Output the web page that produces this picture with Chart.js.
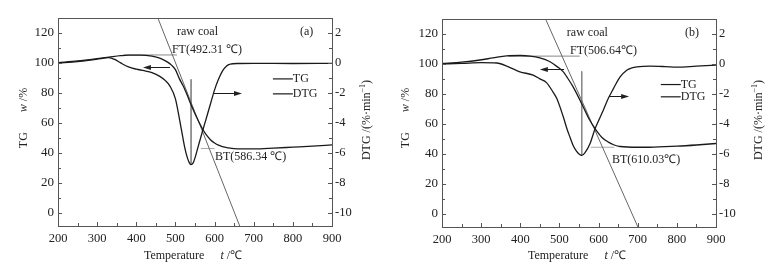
<!DOCTYPE html>
<html>
<head>
<meta charset="utf-8">
<script src="https://cdn.jsdelivr.net/npm/chart.js@4.4.0/dist/chart.umd.min.js"></script>
<style>
html, body { margin: 0; padding: 0; background: #fff; }
#wrap { position: relative; width: 777px; height: 268px; }
.box { position: absolute; top: 0; height: 268px; }
</style>
</head>
<body>
<div id="wrap">
  <div class="box" style="left:0;width:388px"><canvas id="chartA" width="388" height="268"></canvas></div>
  <div class="box" style="left:388px;width:389px"><canvas id="chartB" width="389" height="268"></canvas></div>
</div>
<script>
// ---- data ----
const tempTicks = [200, 300, 400, 500, 600, 700, 800, 900];
const tgTicks = [0, 20, 40, 60, 80, 100, 120];
const dtgTicks = [-10, -8, -6, -4, -2, 0, 2];

// (a) raw coal
const tgTempA = [200, 250, 300, 330, 360, 380, 410, 440, 460, 480, 490, 500, 510, 520, 530, 540, 550, 560, 570, 580, 590, 600, 610, 620, 635, 650, 700, 750, 800, 850, 900];
const tgA     = [100.2, 101.3, 102.8, 103.8, 104.8, 105.2, 105.2, 104.5, 103.2, 100.5, 98.5, 95.5, 89.5, 84.5, 78.5, 72, 66, 60.5, 55.5, 51.5, 48.5, 46.5, 45, 44, 43.2, 42.7, 42.5, 43, 43.7, 44.4, 45.2];
const dtgTempA = [200, 250, 300, 330, 345, 360, 380, 400, 420, 440, 460, 475, 486, 500, 510, 519, 525, 530, 535, 540, 545, 550, 558, 565, 571, 580, 590, 600, 610, 620, 630, 640, 660, 700, 800, 900];
const dtgA     = [0, 0.08, 0.25, 0.35, 0.23, 0, -0.27, -0.42, -0.52, -0.65, -0.9, -1.2, -1.55, -2.4, -3.7, -5.0, -5.8, -6.3, -6.65, -6.8, -6.7, -6.35, -5.6, -4.95, -4.4, -3.6, -2.7, -1.8, -1.1, -0.55, -0.22, -0.08, -0.04, -0.03, -0.04, -0.03];
const ftA = [492.31, 105.3];      // [temperature, TG level]
const btA = [586.34, 42.8];
const peakA = [540, 89, 32];      // [temperature, TG top, TG bottom]
const ftSpanA = [367, 504];
const btSpanA = [565, 600];

// (b)
const tgTempB = [200, 250, 297, 330, 365, 400, 425, 450, 476, 495, 510, 519, 535, 561, 575, 591, 608, 625, 640, 655, 700, 731, 800, 850, 900];
const tgB     = [100.3, 101.2, 102.6, 104, 105.4, 105.6, 105.2, 104, 101.4, 98, 94.7, 91.3, 84.6, 71.2, 63.5, 56.7, 51, 47.7, 45.8, 44.8, 44.3, 44.3, 45, 45.8, 46.8];
const dtgTempB = [200, 250, 300, 340, 370, 399, 433, 450, 467, 484, 493, 510, 520, 527, 535, 544, 550, 557, 565, 578, 591, 600, 612, 625, 638, 655, 672, 685, 698, 731, 770, 800, 850, 900];
const dtgB     = [0, 0.03, 0.08, 0.06, -0.2, -0.53, -0.75, -1.0, -1.25, -1.9, -2.3, -3.55, -4.4, -4.9, -5.45, -5.85, -6.02, -6.12, -5.95, -5.34, -4.33, -3.8, -3.1, -2.3, -1.65, -0.87, -0.42, -0.27, -0.2, -0.15, -0.18, -0.22, -0.15, -0.08];
const ftB = [506.64, 105.2];
const btB = [610.03, 44.3];
const peakB = [557, 95, 38.8];
const ftSpanB = [370, 552];
const btSpanB = [580, 640];

const serif = "'Liberation Serif', 'Times New Roman', serif";
Chart.defaults.font.family = serif;
Chart.defaults.font.size = 12;
Chart.defaults.color = '#222';

function pts(xs, ys) { return xs.map((t, i) => ({ x: t, y: ys[i] })); }

function tangent(ft, bt) {
  const k = (bt[1] - ft[1]) / (bt[0] - ft[0]);
  const tAt = v => ft[0] + (v - ft[1]) / k;
  return [{ x: tAt(140), y: 140 }, { x: tAt(-20), y: -20 }];
}

function minus(v) { return v < 0 ? '-' + Math.abs(v) : String(v); }

function drawParts(ctx, parts, x, y, rot) {
  ctx.save();
  ctx.translate(x, y);
  if (rot) ctx.rotate(-Math.PI / 2);
  let w = 0;
  parts.forEach(p => { ctx.font = p.f; w += ctx.measureText(p.t).width + (p.gap || 0); });
  let cx = -w / 2;
  ctx.textBaseline = 'middle';
  ctx.textAlign = 'left';
  parts.forEach(p => {
    ctx.font = p.f;
    ctx.fillText(p.t, cx, p.dy || 0);
    cx += ctx.measureText(p.t).width + (p.gap || 0);
  });
  ctx.restore();
}

const decor = {
  id: 'decor',
  afterDraw(chart, args, o) {
    const { ctx, chartArea: a, scales } = chart;
    const sx = scales.x, sy = scales.tg, sd = scales.dtg;
    const X = v => sx.getPixelForValue(v), Y = v => sy.getPixelForValue(v);
    ctx.save();
    // frame
    ctx.strokeStyle = '#555';
    ctx.lineWidth = 1;
    ctx.strokeRect(Math.round(a.left) + 0.5, Math.round(a.top) + 0.5, Math.round(a.right - a.left), Math.round(a.bottom - a.top));
    // inward ticks, major + minor
    ctx.beginPath();
    for (let i = 0; i < tempTicks.length; i++) {
      const v = tempTicks[i];
      let p = Math.round(X(v)) + 0.5;
      ctx.moveTo(p, a.bottom); ctx.lineTo(p, a.bottom - 4);
      if (i < tempTicks.length - 1) {
        p = Math.round(X((v + tempTicks[i + 1]) / 2)) + 0.5;
        ctx.moveTo(p, a.bottom); ctx.lineTo(p, a.bottom - 3);
      }
    }
    for (let i = 0; i < tgTicks.length; i++) {
      const v = tgTicks[i];
      let p = Math.round(Y(v)) + 0.5;
      ctx.moveTo(a.left, p); ctx.lineTo(a.left + 4, p);
      p = Math.round(Y(v + 10)) + 0.5;
      ctx.moveTo(a.left, p); ctx.lineTo(a.left + 3, p);
    }
    for (let i = 0; i < dtgTicks.length; i++) {
      const v = dtgTicks[i];
      let p = Math.round(sd.getPixelForValue(v)) + 0.5;
      ctx.moveTo(a.right, p); ctx.lineTo(a.right - 4, p);
      p = Math.round(sd.getPixelForValue(v + 1)) + 0.5;
      ctx.moveTo(a.right, p); ctx.lineTo(a.right - 3, p);
    }
    ctx.stroke();

    // notes
    ctx.fillStyle = '#222';
    ctx.font = '12px ' + serif;
    ctx.textBaseline = 'middle';
    ctx.textAlign = 'left';
    o.notes.forEach(n => ctx.fillText(n.text, X(n.t), Y(n.tg)));

    // legend
    ctx.strokeStyle = '#1a1a1a';
    ctx.lineWidth = 1.2;
    o.legend.forEach(l => {
      ctx.beginPath();
      ctx.moveTo(X(l.t0), Y(l.tg)); ctx.lineTo(X(l.t1), Y(l.tg));
      ctx.stroke();
      ctx.fillText(l.text, X(l.t1), Y(l.tg));
    });

    // arrows
    ctx.lineWidth = 1;
    o.arrows.forEach(ar => {
      const x0 = X(ar.from), x1 = X(ar.to), y = Math.round(Y(ar.tg)) + 0.5;
      const d = Math.sign(x1 - x0);
      ctx.beginPath();
      ctx.moveTo(x0, y); ctx.lineTo(x1 - d * 6, y);
      ctx.stroke();
      ctx.beginPath();
      ctx.moveTo(x1, y); ctx.lineTo(x1 - d * 8, y - 2.5); ctx.lineTo(x1 - d * 8, y + 2.5);
      ctx.closePath();
      ctx.fill();
    });

    // axis titles
    const f = '12px ' + serif, fi = 'italic 12px ' + serif, fs = '8px ' + serif;
    drawParts(ctx, [{ t: 'TG', f: f, gap: 20 }, { t: 'w', f: fi }, { t: ' /%', f: f }], o.titles.left, o.titles.ly, true);
    drawParts(ctx, [{ t: 'DTG /(%\u00b7min', f: f }, { t: '\u22121', f: fs, dy: -4 }, { t: ')', f: f }], o.titles.right, o.titles.ry, true);
    drawParts(ctx, [{ t: 'Temperature', f: f, gap: 16 }, { t: 't', f: fi }, { t: ' /\u2103', f: f }], (a.left + a.right) / 2 - 2, o.titles.by, false);
    ctx.restore();
  }
};

function makeChart(id, d) {
  const curve = { pointRadius: 0, borderColor: '#1a1a1a', borderWidth: 1.3, cubicInterpolationMode: 'monotone', fill: false };
  const guide = { pointRadius: 0, borderWidth: 1, tension: 0, fill: false, yAxisID: 'tg' };
  return new Chart(document.getElementById(id), {
    type: 'line',
    data: {
      datasets: [
        Object.assign({ label: 'TG', data: pts(d.tgT, d.tg), yAxisID: 'tg' }, curve),
        Object.assign({ label: 'DTG', data: pts(d.dtgT, d.dtg), yAxisID: 'dtg' }, curve),
        Object.assign({ label: 'tangent', data: tangent(d.ft, d.bt), borderColor: '#666' }, guide),
        Object.assign({ label: 'FT level', data: [{ x: d.ftSpan[0], y: d.ft[1] }, { x: d.ftSpan[1], y: d.ft[1] }], borderColor: '#888' }, guide),
        Object.assign({ label: 'BT level', data: [{ x: d.btSpan[0], y: d.bt[1] }, { x: d.btSpan[1], y: d.bt[1] }], borderColor: '#aaa' }, guide),
        Object.assign({ label: 'peak', data: [{ x: d.peak[0], y: d.peak[1] }, { x: d.peak[0], y: d.peak[2] }], borderColor: '#888' }, guide)
      ]
    },
    options: {
      responsive: false,
      animation: false,
      layout: { padding: { top: d.top, left: 0, right: 0, bottom: 0 } },
      plugins: {
        legend: { display: false },
        tooltip: { enabled: false },
        decor: { notes: d.notes, legend: d.legend, arrows: d.arrows, titles: d.titles }
      },
      scales: {
        x: {
          type: 'linear', min: 200, max: 900,
          afterBuildTicks: s => { s.ticks = tempTicks.map(v => ({ value: v })); },
          afterFit: s => { s.height = d.xh; },
          grid: { display: false, drawTicks: false },
          border: { display: false },
          ticks: { padding: 5, maxRotation: 0, font: { size: 12.5 } }
        },
        tg: {
          position: 'left', min: -9, max: 130,
          afterBuildTicks: s => { s.ticks = tgTicks.map(v => ({ value: v })); },
          afterFit: s => { s.width = d.lw; },
          grid: { display: false, drawTicks: false },
          border: { display: false },
          ticks: { padding: 4, font: { size: 13 } }
        },
        dtg: {
          position: 'right', min: -10.9, max: 3,
          afterBuildTicks: s => { s.ticks = dtgTicks.map(v => ({ value: v })); },
          afterFit: s => { s.width = d.rw; },
          grid: { display: false, drawTicks: false },
          border: { display: false },
          ticks: { padding: 3, font: { size: 12.5 }, callback: v => minus(v) }
        }
      }
    },
    plugins: [decor]
  });
}

makeChart('chartA', {
  tgT: tgTempA, tg: tgA, dtgT: dtgTempA, dtg: dtgA,
  ft: ftA, bt: btA, peak: peakA, ftSpan: ftSpanA, btSpan: btSpanA,
  top: 18, xh: 42, lw: 58, rw: 56,
  notes: [
    { text: 'raw coal', t: 504, tg: 120.8 },
    { text: '(a)', t: 818, tg: 120.8 },
    { text: 'FT(492.31 \u2103)', t: 491, tg: 108.7 },
    { text: 'BT(586.34 \u2103)', t: 601, tg: 37.2 }
  ],
  legend: [
    { text: 'TG', t0: 749, t1: 800, tg: 89.3 },
    { text: 'DTG', t0: 749, t1: 800, tg: 79.3 }
  ],
  arrows: [
    { from: 486, to: 417, tg: 97.5 },
    { from: 596, to: 670, tg: 79.8 }
  ],
  titles: { left: 24, ly: 118, right: 367, ry: 120, by: 256 }
});

makeChart('chartB', {
  tgT: tgTempB, tg: tgB, dtgT: dtgTempB, dtg: dtgB,
  ft: ftB, bt: btB, peak: peakB, ftSpan: ftSpanB, btSpan: btSpanB,
  top: 19, xh: 41, lw: 54, rw: 61,
  notes: [
    { text: 'raw coal', t: 519, tg: 120.8 },
    { text: '(b)', t: 821, tg: 120.8 },
    { text: 'FT(506.64\u2103)', t: 527, tg: 109 },
    { text: 'BT(610.03\u2103)', t: 634, tg: 36 }
  ],
  legend: [
    { text: 'TG', t0: 759, t1: 810, tg: 86.2 },
    { text: 'DTG', t0: 759, t1: 810, tg: 78 }
  ],
  arrows: [
    { from: 512, to: 450, tg: 96.3 },
    { from: 627, to: 678, tg: 78.6 }
  ],
  titles: { left: 18, ly: 118, right: 371, ry: 120, by: 256 }
});
</script>
</body>
</html>
